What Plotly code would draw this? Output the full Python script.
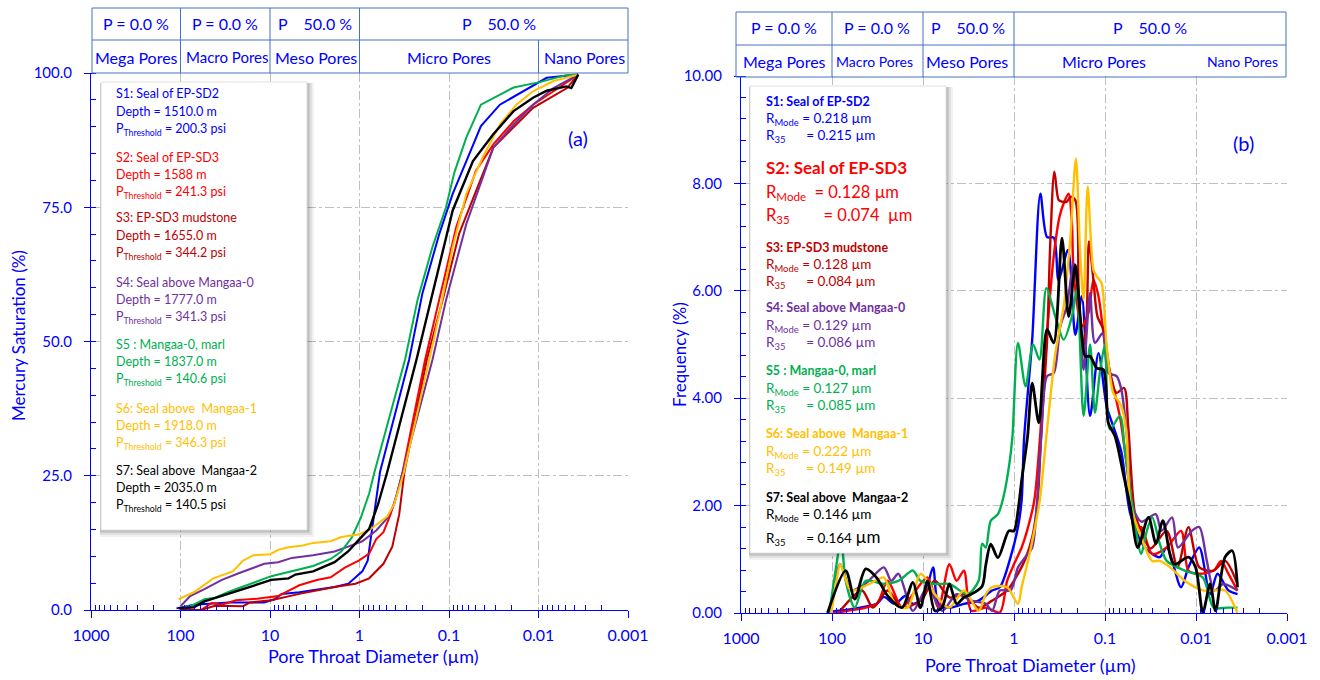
import plotly.graph_objects as go

# ---------------- DATA ----------------
series_names = ["S1", "S2", "S3", "S4", "S5", "S6", "S7"]
series_colors = ["#0000FF", "#FF0000", "#C00000", "#7030A0", "#00B050", "#FFC000", "#000000"]

# Panel (a): cumulative mercury saturation (%) vs pore throat diameter (um)
a_s1_d = [111, 71, 28.8, 11.7, 8.9, 7.4, 4.7, 1.9, 1.33, 0.93, 0.81, 0.74, 0.68, 0.59, 0.279, 0.198, 0.128, 0.091, 0.064, 0.044, 0.027, 0.016, 0.0081, 0.0036]
a_s1_s = [0.3, 1.0, 1.4, 1.4, 2.0, 3.0, 3.3, 4.3, 4.9, 7.2, 9.2, 13.8, 19.1, 25.7, 46.6, 59.0, 70.1, 77.5, 83.6, 90.1, 94.1, 96.3, 99.1, 99.7]
a_s2_d = [100, 59, 45, 34.5, 24, 14, 8.1, 4.7, 3.0, 2.1, 1.46, 1.02, 0.78, 0.65, 0.54, 0.45, 0.38, 0.33, 0.185, 0.128, 0.083, 0.050, 0.032, 0.019, 0.0115, 0.0068, 0.0036]
a_s2_s = [0.0, 0.0, 1.3, 1.0, 1.8, 2.1, 2.6, 4.6, 5.6, 6.1, 7.9, 9.2, 10.5, 13.2, 14.5, 17.8, 21.7, 25.7, 46.6, 57.7, 71.3, 81.8, 86.7, 91.0, 94.1, 96.6, 99.7]
a_s3_d = [100, 59, 41, 20, 16.7, 9.7, 4.7, 1.9, 1.11, 0.78, 0.54, 0.43, 0.36, 0.315, 0.177, 0.118, 0.077, 0.032, 0.0115, 0.0048, 0.0036]
a_s3_s = [0.0, 0.0, 0.8, 0.7, 1.4, 1.8, 3.0, 4.3, 4.9, 5.9, 8.6, 11.8, 17.8, 25.7, 46.6, 57.7, 70.1, 86.1, 93.5, 97.2, 99.7]
a_s4_d = [100, 78, 54, 34.5, 22, 11.6, 8.1, 5.7, 3.3, 1.9, 1.34, 0.93, 0.65, 0.49, 0.41, 0.33, 0.153, 0.108, 0.064, 0.032, 0.019, 0.0115, 0.0068, 0.0036]
a_s4_s = [0.7, 2.6, 3.9, 5.6, 6.9, 8.6, 8.9, 9.7, 10.2, 10.9, 11.8, 12.8, 14.8, 17.1, 19.7, 25.7, 46.6, 57.7, 71.9, 86.1, 90.4, 94.1, 97.2, 99.7]
a_s5_d = [100, 71, 54, 41, 28.8, 20, 14, 9.7, 6.8, 4.7, 3.3, 2.1, 1.6, 1.22, 0.97, 0.78, 0.68, 0.31, 0.225, 0.153, 0.108, 0.087, 0.064, 0.044, 0.019, 0.0097, 0.0049, 0.0036]
a_s5_s = [0.3, 1.0, 2.0, 2.3, 3.4, 4.3, 5.3, 6.3, 6.9, 7.6, 8.2, 9.5, 10.9, 13.5, 17.1, 21.7, 25.7, 46.6, 57.7, 67.6, 75.0, 81.5, 88.0, 94.1, 97.3, 98.3, 99.6, 99.7]
a_s6_d = [105, 71, 43, 26, 20, 15.3, 10, 8.1, 6.2, 4.3, 3.3, 2.1, 1.6, 1.0, 0.76, 0.59, 0.49, 0.41, 0.36, 0.32, 0.166, 0.128, 0.091, 0.064, 0.042, 0.027, 0.0177, 0.0115, 0.0068, 0.0036]
a_s6_s = [2.0, 3.3, 5.9, 7.2, 9.2, 10.2, 10.4, 11.2, 11.7, 12.0, 12.5, 12.8, 13.6, 14.1, 15.0, 16.4, 17.4, 19.7, 23.0, 25.6, 46.6, 55.2, 67.6, 77.5, 84.3, 90.4, 94.1, 96.6, 98.5, 99.7]
a_s7_d = [105, 71, 54, 28.8, 16.7, 9.7, 6.2, 5.2, 3.3, 1.9, 1.34, 1.0, 0.78, 0.62, 0.49, 0.231, 0.153, 0.091, 0.054, 0.032, 0.019, 0.0115, 0.0081, 0.0049, 0.0043, 0.0036]
a_s7_s = [0.3, 0.5, 1.6, 3.0, 4.3, 5.6, 5.9, 6.6, 7.2, 8.9, 10.9, 13.2, 15.1, 19.7, 25.7, 46.6, 58.9, 74.4, 83.6, 88.6, 92.9, 95.4, 96.7, 97.5, 97.2, 99.7]

# Panel (b): frequency (%) vs pore throat diameter (um)
b_s1_d = [97.7, 61.7, 32.4, 26.9, 20.4, 15.5, 12.9, 9.77, 7.76, 6.76, 5.13, 3.55, 2.45, 1.74, 1.43, 1.09, 0.904, 0.824, 0.776, 0.631, 0.513, 0.433, 0.366, 0.324, 0.255, 0.212, 0.180, 0.146, 0.118, 0.0959, 0.0813, 0.0661, 0.0526, 0.0365, 0.0251, 0.0209, 0.0146, 0.0121, 0.0092, 0.0070, 0.0058, 0.0044, 0.0035]
b_s1_f = [0.03, 0.07, 0.17, 0.30, 0.17, 0.32, 0.17, 0.30, 0.85, 0.17, 0.10, 0.17, 0.23, 0.42, 0.48, 1.04, 1.60, 2.10, 3.23, 5.09, 7.81, 7.00, 6.99, 6.20, 6.76, 5.18, 5.90, 3.67, 4.84, 3.85, 3.48, 3.00, 1.84, 1.22, 1.04, 1.22, 0.48, 0.85, 1.22, 0.35, 0.73, 0.42, 0.35]
b_s2_d = [97.7, 67.6, 32.4, 24.5, 17.0, 12.9, 8.91, 6.76, 5.13, 4.27, 3.55, 2.95, 2.04, 1.43, 1.19, 1.0, 0.824, 0.719, 0.598, 0.513, 0.433, 0.366, 0.316, 0.280, 0.251, 0.231, 0.221, 0.180, 0.152, 0.134, 0.118, 0.104, 0.0959, 0.0813, 0.0676, 0.0562, 0.0468, 0.040, 0.0303, 0.0210, 0.0146, 0.0121, 0.0092, 0.0064, 0.0053, 0.0044, 0.0035]
b_s2_f = [0.0, 0.04, 0.17, 0.60, 0.10, 0.35, 0.66, 0.10, 0.91, 0.60, 0.79, 0.04, 0.10, 0.01, 0.60, 0.91, 1.22, 1.53, 2.10, 3.36, 5.21, 6.64, 7.38, 7.66, 7.81, 7.26, 6.33, 5.34, 5.59, 6.20, 5.90, 5.21, 4.78, 4.22, 3.60, 2.60, 1.55, 1.60, 1.10, 1.22, 1.53, 0.79, 0.73, 0.79, 0.97, 0.73, 0.42]
b_s3_d = [81.3, 46.8, 35.5, 24.5, 17.0, 10.7, 7.41, 5.13, 3.55, 2.45, 1.74, 1.19, 0.904, 0.752, 0.627, 0.550, 0.501, 0.433, 0.398, 0.360, 0.323, 0.297, 0.263, 0.240, 0.212, 0.195, 0.180, 0.162, 0.150, 0.134, 0.121, 0.104, 0.0881, 0.0746, 0.0617, 0.0556, 0.0468, 0.040, 0.0316, 0.0210, 0.0160, 0.0121, 0.0092, 0.0064, 0.0048, 0.0035]
b_s3_f = [0.04, 0.42, 0.10, 0.42, 0.10, 0.23, 0.60, 0.29, 0.35, 0.10, 0.23, 0.42, 0.73, 1.00, 1.43, 2.10, 3.40, 5.09, 6.95, 8.22, 7.69, 7.66, 7.66, 7.75, 7.69, 6.02, 4.97, 5.28, 6.92, 6.20, 5.52, 5.28, 4.47, 4.10, 4.19, 3.48, 1.84, 1.53, 1.20, 1.53, 0.85, 1.60, 0.85, 0.79, 0.97, 0.54]
b_s4_d = [93.3, 81.3, 61.7, 42.7, 26.9, 22.4, 18.6, 12.9, 8.91, 6.17, 4.27, 2.95, 2.04, 1.74, 1.43, 1.09, 0.904, 0.752, 0.631, 0.562, 0.501, 0.433, 0.366, 0.310, 0.263, 0.221, 0.195, 0.172, 0.146, 0.129, 0.106, 0.092, 0.0746, 0.0661, 0.0575, 0.0501, 0.0398, 0.0277, 0.0240, 0.0183, 0.0158, 0.0111, 0.0092, 0.0076, 0.0063, 0.0050, 0.0035]
b_s4_f = [0.60, 0.91, 0.42, 0.55, 0.85, 0.60, 0.73, 0.04, 0.48, 0.04, 0.35, 0.23, 0.17, 0.04, 0.42, 0.42, 0.85, 1.04, 1.22, 2.00, 3.30, 4.41, 4.47, 5.34, 5.71, 6.51, 5.83, 4.53, 5.96, 5.03, 5.21, 4.47, 4.41, 4.16, 3.30, 2.00, 1.70, 1.84, 1.53, 1.78, 1.22, 1.53, 1.60, 0.97, 0.42, 0.54, 0.42]
b_s5_d = [107, 89.1, 79.4, 70.8, 56.2, 42.7, 26.9, 18.6, 12.9, 10.7, 7.41, 5.13, 3.24, 2.45, 2.24, 2.04, 1.80, 1.50, 1.31, 1.12, 1.04, 0.904, 0.746, 0.617, 0.525, 0.441, 0.351, 0.285, 0.231, 0.204, 0.172, 0.146, 0.129, 0.114, 0.100, 0.0881, 0.0686, 0.0603, 0.0501, 0.040, 0.0355, 0.0303, 0.0251, 0.0210, 0.0133, 0.0084, 0.0064, 0.0045, 0.0035]
b_s5_f = [0.0, 0.91, 1.40, 0.60, 0.10, 0.60, 0.54, 0.60, 0.79, 0.60, 0.54, 0.54, 0.35, 0.60, 1.29, 1.22, 1.72, 1.84, 2.15, 2.80, 3.29, 5.03, 4.22, 5.00, 4.72, 6.05, 5.52, 5.09, 5.52, 6.02, 3.67, 5.00, 3.73, 4.47, 5.00, 3.42, 3.67, 3.00, 2.00, 1.10, 1.47, 1.78, 1.30, 0.97, 0.79, 0.66, 0.10, 0.10, 0.10]
b_s6_d = [102, 89.1, 81.3, 61.7, 38.9, 26.9, 20.4, 14.8, 10.7, 8.91, 7.41, 5.13, 3.55, 2.45, 2.04, 1.74, 1.19, 0.904, 0.824, 0.687, 0.598, 0.521, 0.433, 0.351, 0.285, 0.241, 0.209, 0.187, 0.172, 0.155, 0.134, 0.123, 0.109, 0.0959, 0.0813, 0.0661, 0.0581, 0.0526, 0.040, 0.0303, 0.0251, 0.0192, 0.0133, 0.0084, 0.0064, 0.0048, 0.0035]
b_s6_f = [0.0, 0.60, 0.91, 0.42, 0.54, 0.66, 0.17, 0.10, 0.73, 0.60, 0.35, 0.10, 0.42, 0.04, 0.35, 0.48, 0.48, 0.17, 0.48, 1.04, 1.53, 2.10, 3.42, 4.84, 5.70, 6.95, 8.46, 6.64, 5.83, 7.94, 6.39, 6.27, 6.14, 4.97, 4.10, 3.85, 3.36, 2.03, 1.41, 0.97, 0.97, 0.85, 0.60, 0.42, 0.42, 0.42, 0.0]
b_s7_d = [112, 70.8, 56.2, 42.7, 32.4, 24.5, 17.0, 12.9, 10.7, 8.91, 7.41, 6.17, 5.13, 4.27, 3.55, 2.95, 2.24, 2.04, 1.80, 1.50, 1.14, 1.0, 0.904, 0.824, 0.708, 0.631, 0.533, 0.433, 0.366, 0.297, 0.251, 0.212, 0.187, 0.165, 0.146, 0.123, 0.104, 0.092, 0.0776, 0.0631, 0.0526, 0.0437, 0.0333, 0.0275, 0.0231, 0.0175, 0.0121, 0.0101, 0.0084, 0.0070, 0.0061, 0.0048, 0.0040, 0.0035]
b_s7_f = [0.0, 0.79, 0.26, 0.82, 0.66, 0.32, 0.10, 0.57, 0.10, 0.60, 0.04, 0.10, 0.54, 0.17, 0.29, 0.35, 0.50, 0.90, 1.28, 1.03, 1.53, 1.53, 1.90, 2.47, 3.30, 4.28, 3.54, 5.28, 5.03, 6.98, 5.52, 6.48, 5.52, 4.78, 4.78, 4.56, 4.53, 3.54, 3.29, 2.60, 1.97, 1.22, 1.78, 1.29, 1.72, 0.91, 1.04, 0.85, 0.01, 0.54, 0.04, 1.04, 1.16, 0.48]

a_d = [a_s1_d, a_s2_d, a_s3_d, a_s4_d, a_s5_d, a_s6_d, a_s7_d]
a_s = [a_s1_s, a_s2_s, a_s3_s, a_s4_s, a_s5_s, a_s6_s, a_s7_s]
b_d = [b_s1_d, b_s2_d, b_s3_d, b_s4_d, b_s5_d, b_s6_d, b_s7_d]
b_f = [b_s1_f, b_s2_f, b_s3_f, b_s4_f, b_s5_f, b_s6_f, b_s7_f]

x_tick_vals = [1000, 100, 10, 1, 0.1, 0.01, 0.001]
x_tick_text = ["1000", "100", "10", "1", "0.1", "0.01", "0.001"]

header_top = ["P = 0.0 %", "P = 0.0 %", "P\u00a0\u00a0\u00a0\u00a050.0 %", "P\u00a0\u00a0\u00a0\u00a050.0 %"]
header_bottom = ["Mega Pores", "Macro Pores", "Meso Pores", "Micro Pores", "Nano Pores"]

a_titles = ["S1: Seal of EP-SD2", "S2: Seal of EP-SD3", "S3: EP-SD3 mudstone", "S4: Seal above Mangaa-0",
            "S5 : Mangaa-0, marl", "S6: Seal above\u00a0 Mangaa-1", "S7: Seal above\u00a0 Mangaa-2"]
a_depth = ["1510.0 m", "1588 m", "1655.0 m", "1777.0 m", "1837.0 m", "1918.0 m", "2035.0 m"]
a_pthr = ["200.3 psi", "241.3 psi", "344.2 psi", "341.3 psi", "140.6 psi", "346.3 psi", "140.5 psi"]

b_titles = a_titles
b_rmode = ["0.218", "0.128", "0.128", "0.129", "0.127", "0.222", "0.146"]
b_r35 = ["0.215", "0.074", "0.084", "0.086", "0.085", "0.149", "0.164"]

# ---------------- FIGURE ----------------
W, H = 1320, 680
BLUE = "#0000FF"
FONT = "Lato"
GRID = "#BFBFBF"
HDR = "#4472C4"


def fx(p):
    return p / W


def fy(p):
    return 1 - p / H


fig = go.Figure()
for i in range(7):
    fig.add_trace(go.Scatter(x=a_d[i], y=a_s[i], mode="lines", xaxis="x", yaxis="y",
                             line=dict(color=series_colors[i], width=2.4 if i == 6 else 2),
                             name=series_names[i], hoverinfo="skip"))
for i in range(7):
    fig.add_trace(go.Scatter(x=b_d[i], y=b_f[i], mode="lines", xaxis="x2", yaxis="y2",
                             line=dict(color=series_colors[i], width=2.8 if i == 6 else 2.4,
                                       shape="spline", smoothing=0.8),
                             name=series_names[i], hoverinfo="skip"))

minor_x = [m * 10.0 ** e for e in range(-3, 3) for m in range(2, 10)]


def xaxis_cfg(l, r, anchor):
    return dict(type="log", range=[3, -3], autorange=False, domain=[fx(l), fx(r)], anchor=anchor,
                automargin=False,
                showline=True, linecolor=BLUE, linewidth=1, ticks="outside", ticklen=7,
                tickcolor=BLUE, tickwidth=1, tickmode="array", tickvals=x_tick_vals,
                ticktext=x_tick_text, tickfont=dict(family=FONT, size=16, color=BLUE),
                ticklabelstandoff=4,
                showgrid=True, gridcolor=GRID, griddash="dashdot", gridwidth=1, zeroline=False,
                minor=dict(tickmode="array", tickvals=minor_x, ticks="inside", ticklen=5,
                           tickcolor=BLUE, tickwidth=1, showgrid=False))


def yaxis_cfg(t, b, anchor, rng, dt, mdt, fmt):
    return dict(range=rng, autorange=False, domain=[fy(b), fy(t)], anchor=anchor,
                automargin=False,
                showline=True, linecolor=BLUE, linewidth=1, ticks="outside", ticklen=6,
                tickcolor=BLUE, tickwidth=1, tick0=0, dtick=dt, tickformat=fmt,
                tickfont=dict(family=FONT, size=15, color=BLUE), ticklabelstandoff=9,
                showgrid=True, gridcolor=GRID, griddash="dashdot", gridwidth=1, zeroline=False,
                minor=dict(tick0=0, dtick=mdt, ticks="inside", ticklen=5, tickcolor=BLUE,
                           tickwidth=1, showgrid=False))


fig.update_layout(
    template="none",
    width=W, height=H, margin=dict(l=0, r=0, t=0, b=0, pad=0), autosize=False,
    paper_bgcolor="white", plot_bgcolor="white", showlegend=False,
    font=dict(family=FONT, color=BLUE),
    xaxis=xaxis_cfg(91, 628, "y"),
    yaxis=yaxis_cfg(73, 610, "x", [0, 100], 25, 5, ".1f"),
    xaxis2=xaxis_cfg(741, 1287, "y2"),
    yaxis2=yaxis_cfg(76, 613, "x2", [0, 10], 2, 0.4, ".2f"),
)

shapes = []
annots = []


def line(x0, y0, x1, y1, color=HDR, width=1):
    shapes.append(dict(type="line", xref="paper", yref="paper", x0=fx(x0), y0=fy(y0),
                       x1=fx(x1), y1=fy(y1), line=dict(color=color, width=width)))


def txt(x, y, s, size, color=BLUE, anchor="left", bold=False):
    if bold:
        s = "<b>" + s + "</b>"
    annots.append(dict(x=fx(x), y=fy(y), xref="paper", yref="paper", text=s, showarrow=False,
                       xanchor=anchor, yanchor="middle",
                       font=dict(family=FONT, size=size, color=color)))


def header(l, r, t, m, b, top_div, bot_div, top_cx, bot_cx, top_sizes, bot_sizes, ty, by):
    line(l, t, r, t)
    line(l, m, r, m)
    line(l, b, r, b)
    line(l, t, l, b)
    line(r, t, r, b)
    for d in top_div:
        line(d, t, d, m)
    for d in bot_div:
        line(d, m, d, b)
    for s, cx, fs in zip(header_top, top_cx, top_sizes):
        txt(cx, ty, s, fs, anchor="center")
    for s, cx, fs in zip(header_bottom, bot_cx, bot_sizes):
        txt(cx, by, s, fs, anchor="center")


header(92, 628, 8, 40, 73, [180.5, 270, 359.5], [180.5, 270, 359.5, 538.5],
       [136, 225, 315, 499], [136, 227, 316, 449, 584], [16, 16, 16, 16], [16, 15, 16, 16, 16], 24, 57)
header(736, 1286, 12, 45, 77, [832, 923, 1014], [832, 923, 1014],
       [784, 877, 968, 1150], [784, 874, 967, 1104, 1242], [16, 16, 16, 16], [16, 14, 16, 16, 14], 28, 61)


def box(l, t, r, b):
    for off, op in [(7, 0.05), (5, 0.07), (3, 0.09), (1.5, 0.10)]:
        shapes.append(dict(type="rect", xref="paper", yref="paper", layer="above",
                           x0=fx(l - 1), y0=fy(b + off), x1=fx(r + off), y1=fy(t + 1),
                           fillcolor="rgba(0,0,0,%.2f)" % op, line=dict(width=0)))
    shapes.append(dict(type="rect", xref="paper", yref="paper", layer="above",
                       x0=fx(l), y0=fy(b), x1=fx(r), y1=fy(t),
                       fillcolor="white", line=dict(color="#E0E0E0", width=1)))


box(101, 82, 307, 530)
box(750, 86, 946, 553)

# legend (a)
a_y = [94, 157, 218, 282, 344, 408, 470]
for i in range(7):
    c = series_colors[i]
    txt(114, a_y[i], a_titles[i], 12.5, c)
    txt(114, a_y[i] + 17.5, "Depth = " + a_depth[i], 12.5, c)
    txt(114, a_y[i] + 35, "P<sub>Threshold</sub> = " + a_pthr[i], 12.5, c)

# legend (b)
b_y = [101, 167, 247, 308, 371, 434, 498]
sp = "\u00a0"
for i in range(7):
    c = series_colors[i]
    if i == 1:
        txt(764, b_y[i], b_titles[i], 17, c, bold=True)
        txt(764, b_y[i] + 25, "R<sub>Mode</sub>" + sp * 2 + "= " + b_rmode[i] + " µm", 16.5, c)
        txt(764, b_y[i] + 48, "R<sub>35</sub>" + sp * 8 + "= " + b_r35[i] + sp * 2 + "µm", 16.5, c)
    else:
        txt(764, b_y[i], b_titles[i], 12.5, c, bold=True)
        d1 = 17 if i == 6 else 18
        d2 = 39 if i == 6 else 35
        txt(764, b_y[i] + d1, "R<sub>Mode</sub> = " + b_rmode[i] + " µm", 13.5, c)
        unit = "<span style='font-size:17px'>µm</span>" if i == 6 else "µm"
        txt(764, b_y[i] + d2, "R<sub>35</sub>" + sp * 6 + "= " + b_r35[i] + " " + unit, 13.5, c)

# panel labels and axis titles
txt(578, 138, "(a)", 20, anchor="center")
txt(1243, 143, "(b)", 20, anchor="center")
txt(373, 656, "Pore Throat Diameter (µm)", 18, anchor="center")
txt(1030, 665, "Pore Throat Diameter (µm)", 18, anchor="center")
annots.append(dict(x=fx(18), y=fy(336), xref="paper", yref="paper", text="Mercury Saturation (%)",
                   showarrow=False, textangle=-90, xanchor="center", yanchor="middle",
                   font=dict(family=FONT, size=17, color=BLUE)))
annots.append(dict(x=fx(679), y=fy(355), xref="paper", yref="paper", text="Frequency (%)",
                   showarrow=False, textangle=-90, xanchor="center", yanchor="middle",
                   font=dict(family=FONT, size=17, color=BLUE)))

fig.update_layout(shapes=shapes, annotations=annots)
fig.write_html("out.html", config={"displayModeBar": False},
               post_script="document.body.style.margin='0';document.body.style.overflow='hidden';")
